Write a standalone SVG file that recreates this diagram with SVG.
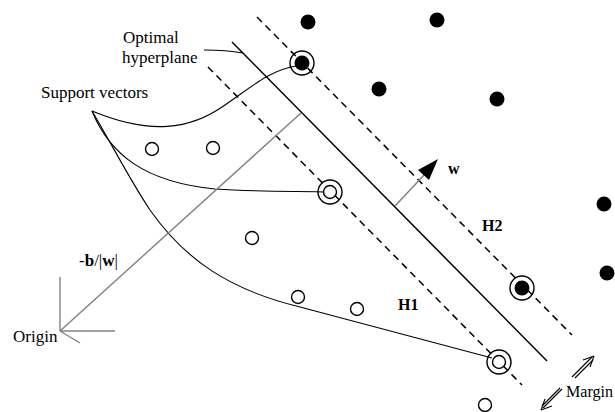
<svg xmlns="http://www.w3.org/2000/svg" width="615" height="412" viewBox="0 0 615 412">
<style>
.t{font-family:"Liberation Serif","Times New Roman",serif;font-size:17px;fill:#000}
.b{font-weight:bold;font-size:16px}
.solid{stroke:#000;stroke-width:1.5;fill:none}
.dash{stroke:#000;stroke-width:1.5;fill:none;stroke-dasharray:7,5}
.thin{stroke:#000;stroke-width:1.1;fill:none}
.gray{stroke:#808080;stroke-width:1.4;fill:none}
.pos{fill:#000}
.neg{fill:#fff;stroke:#000;stroke-width:1.4}
.ring{fill:none;stroke:#000;stroke-width:1.4}
</style>
<rect width="615" height="412" fill="#fff"/>
<g id="connectors">
<line class="solid" x1="232" y1="42" x2="547" y2="361"/>
<line class="dash" x1="257" y1="17" x2="572" y2="335"/>
<line class="dash" x1="208" y1="67" x2="522" y2="385"/>
<path class="thin" d="M204,50 C220,50 232,51 243,53"/>
<path class="thin" d="M92,111 C150,135 190,130 225,105 C250,88 270,70 296,66"/>
<path class="thin" d="M92,111 C110,155 145,182 215,189 C260,192 300,191 330,192"/>
<path class="thin" d="M92,111 C115,150 130,180 150,210 C185,260 230,290 300,307 L492,358"/>
<line class="gray" x1="60" y1="331" x2="301" y2="113"/>
<line class="gray" x1="60" y1="331" x2="60" y2="277"/>
<line class="gray" x1="60" y1="331" x2="115" y2="331"/>
<line class="gray" x1="60" y1="331" x2="80" y2="343"/>
<line class="gray" x1="395" y1="206" x2="425" y2="174"/>
<polygon points="438,159 429,180 418,170" fill="#000"/>
<g id="margin-arrows" class="thin">
<line x1="572" y1="377" x2="592" y2="357"/>
<line x1="575" y1="378" x2="593" y2="360"/>
<line x1="594" y1="356" x2="583" y2="360"/>
<line x1="594" y1="356" x2="590" y2="367"/>
<line x1="562" y1="389" x2="543" y2="408"/>
<line x1="560" y1="388" x2="542" y2="406"/>
<line x1="541" y1="410" x2="552" y2="406"/>
<line x1="541" y1="410" x2="545" y2="399"/>
</g>
</g>
<g id="positive-points">
<circle class="pos" cx="308" cy="22" r="7.5"/>
<circle class="pos" cx="437" cy="20" r="7.5"/>
<circle class="pos" cx="379" cy="89" r="7.5"/>
<circle class="pos" cx="497" cy="99" r="7.5"/>
<circle class="pos" cx="604" cy="204" r="7.5"/>
<circle class="pos" cx="607" cy="273" r="7.5"/>
</g>
<g id="negative-points">
<circle class="neg" cx="152" cy="149" r="6.5"/>
<circle class="neg" cx="213" cy="148" r="6.5"/>
<circle class="neg" cx="252" cy="238" r="6.5"/>
<circle class="neg" cx="298" cy="297" r="6.5"/>
<circle class="neg" cx="357" cy="309" r="6.5"/>
<circle class="neg" cx="485" cy="405" r="6.5"/>
</g>
<g id="support-vectors">
<g id="sv1"><circle class="pos" cx="302" cy="63" r="7.5"/><circle class="ring" cx="302" cy="63" r="12"/></g>
<g id="sv2"><circle class="neg" cx="330" cy="192" r="6.5"/><circle class="ring" cx="330" cy="192" r="12"/></g>
<g id="sv3"><circle class="neg" cx="499" cy="362" r="6.5"/><circle class="ring" cx="499" cy="362" r="12"/></g>
<g id="sv4"><circle class="pos" cx="522" cy="288" r="7.5"/><circle class="ring" cx="522" cy="288" r="12"/></g>
</g>
<g id="labels">
<text class="t" x="123" y="43">Optimal</text>
<text class="t" x="122" y="63">hyperplane</text>
<text class="t" x="41" y="98">Support vectors</text>
<text class="t" x="13" y="342">Origin</text>
<text class="t" x="79" y="266" font-size="16">-<tspan font-weight="bold">b</tspan>/|<tspan font-weight="bold">w</tspan>|</text>
<text class="t b" x="448" y="174">w</text>
<text class="t b" x="482" y="231">H2</text>
<text class="t b" x="398" y="310">H1</text>
<text class="t" x="566" y="397" font-size="16" textLength="47" lengthAdjust="spacingAndGlyphs">Margin</text>
</g>
</svg>
